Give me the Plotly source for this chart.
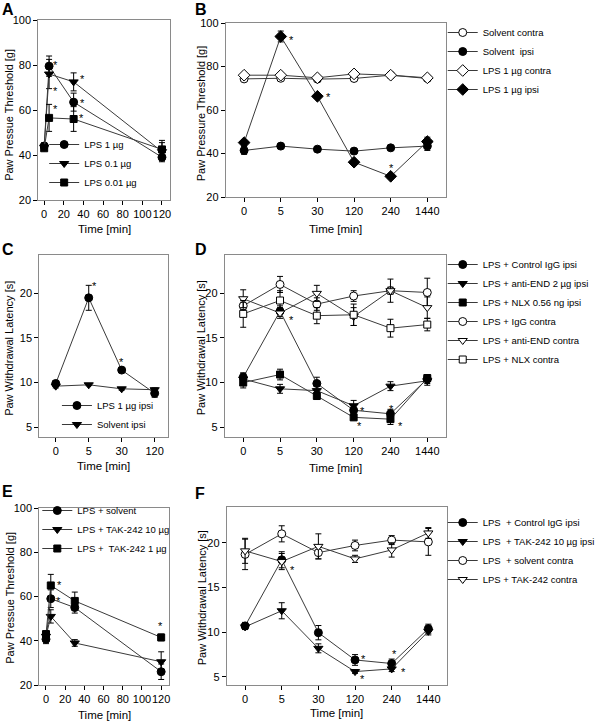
import plotly.graph_objects as go

# ---------------- data ----------------
# Panel A
a_time = [0, 5, 30, 120]
a_lps1 = [44.0, 79.5, 63.5, 39.0]
a_lps1_err = [1.5, 4.5, 4.0, 2.0]
a_lps01 = [43.5, 76.0, 72.5, 41.5]
a_lps01_err = [1.5, 6.5, 4.0, 4.0]
a_lps001 = [43.0, 56.5, 56.0, 42.5]
a_lps001_err = [1.0, 6.0, 5.5, 4.0]
a_star_x = [12, 12, 12, 39, 39, 38]
a_star_y = [81.4, 69.9, 61.6, 75.0, 64.3, 57.9]

# Panel B
b_cats = ["0", "5", "30", "120", "240", "1440"]
b_sol_contra = [74.3, 74.6, 74.2, 74.5, 76.0, 74.5]
b_sol_contra_err = [0.6, 0.6, 0.6, 0.6, 0.6, 0.6]
b_sol_ipsi = [41.4, 43.4, 42.0, 41.1, 42.6, 43.4]
b_sol_ipsi_err = [1.8, 0.8, 1.0, 0.8, 1.0, 2.0]
b_lps_contra = [76.0, 76.0, 74.8, 76.6, 76.0, 74.8]
b_lps_contra_err = [0.6, 0.6, 0.6, 0.6, 0.6, 0.6]
b_lps_ipsi = [45.0, 93.8, 66.3, 36.0, 29.5, 45.5]
b_lps_ipsi_err = [1.2, 2.5, 1.0, 1.0, 0.8, 2.0]
b_star_x = [1.28, 2.29, 4.03]
b_star_y = [93.4, 67.2, 34.9]

# Panel C
c_cats = ["0", "5", "30", "120"]
c_lps = [9.9, 19.5, 11.4, 8.8]
c_lps_err = [0.3, 1.4, 0.2, 0.45]
c_sol = [9.6, 9.75, 9.3, 9.2]
c_sol_err = [0.2, 0.1, 0.15, 0.2]
c_star_x = [1.17, 1.98]
c_star_y = [21.2, 12.65]

# Panel D
d_cats = ["0", "5", "30", "120", "240", "1440"]
d_igg_ipsi = [10.6, 18.0, 9.9, 6.9, 6.5, 10.4]
d_igg_ipsi_err = [0.5, 0.6, 0.7, 0.6, 0.5, 0.5]
d_end_ipsi = [10.4, 9.3, 9.1, 7.4, 9.6, 10.2]
d_end_ipsi_err = [0.6, 0.5, 0.5, 0.6, 0.5, 0.5]
d_nlx_ipsi = [10.0, 10.9, 8.5, 6.1, 5.9, 10.5]
d_nlx_ipsi_err = [0.6, 0.6, 0.4, 0.3, 0.6, 0.4]
d_igg_contra = [18.6, 21.0, 18.8, 19.7, 20.3, 20.1]
d_igg_contra_err = [0.4, 0.9, 0.7, 0.6, 0.4, 1.6]
d_end_contra = [19.4, 17.8, 20.0, 17.4, 20.3, 18.4]
d_end_contra_err = [1.0, 0.6, 0.9, 1.0, 1.3, 1.2]
d_nlx_contra = [17.7, 19.2, 17.5, 17.6, 16.1, 16.5]
d_nlx_contra_err = [1.5, 1.1, 0.9, 1.2, 1.0, 0.7]
d_star_x = [1.30, 3.23, 3.17, 4.03, 4.27]
d_star_y = [17.4, 7.17, 5.5, 7.4, 5.5]

# Panel E
e_time = [0, 5, 30, 120]
e_solv = [40.7, 59.0, 55.0, 26.0]
e_solv_err = [2.0, 4.0, 2.5, 3.5]
e_tak10 = [42.0, 51.0, 39.0, 30.5]
e_tak10_err = [2.0, 3.0, 1.5, 4.5]
e_tak1 = [43.0, 65.0, 58.0, 41.5]
e_tak1_err = [1.5, 5.0, 4.0, 1.5]
e_star_x = [14.5, 13.0, 119.0]
e_star_y = [66.5, 59.2, 47.9]

# Panel F
f_cats = ["0", "5", "30", "120", "240", "1440"]
f_igg_ipsi = [10.7, 18.1, 9.95, 6.9, 6.5, 10.4]
f_igg_ipsi_err = [0.4, 0.9, 0.8, 0.6, 0.5, 0.5]
f_tak_ipsi = [10.6, 12.4, 8.2, 5.6, 5.9, 10.1]
f_tak_ipsi_err = [0.3, 0.9, 0.5, 0.2, 0.3, 0.4]
f_solv_contra = [18.7, 21.0, 18.9, 19.7, 20.3, 20.1]
f_solv_contra_err = [1.7, 0.9, 0.7, 0.6, 0.5, 1.5]
f_tak_contra = [19.1, 17.9, 19.6, 18.2, 19.2, 21.1]
f_tak_contra_err = [1.4, 0.9, 1.4, 0.4, 0.8, 0.6]
f_star_x = [1.30, 3.24, 3.21, 4.09, 4.32]
f_star_y = [17.3, 7.36, 5.07, 7.9, 5.9]

# ---------------- figure ----------------
W, H = 600, 722
FONT = "Liberation Sans, Arial, sans-serif"
LINE = "#3a3a3a"
FRAME = "#8a8a8a"

fig = go.Figure()


def add(axn, x, y, err, name, symbol, filled, size, legend):
    xa = "x" if axn == 1 else f"x{axn}"
    ya = "y" if axn == 1 else f"y{axn}"
    fig.add_trace(go.Scatter(
        x=x, y=y, name=name, mode="lines+markers",
        xaxis=xa, yaxis=ya, legend=legend,
        line=dict(color=LINE, width=1),
        marker=dict(symbol=symbol, size=size,
                    color="black" if filled else "white",
                    line=dict(color="black", width=1)),
        error_y=dict(type="data", array=err, color="black",
                     thickness=1, width=3),
    ))


# A
add(1, a_time, a_lps1, a_lps1_err, "LPS 1 µg", "circle", True, 8, "legend")
add(1, a_time, a_lps01, a_lps01_err, "LPS 0.1 µg", "triangle-down", True, 8, "legend")
add(1, a_time, a_lps001, a_lps001_err, "LPS 0.01 µg", "square", True, 7, "legend")
# B
add(2, b_cats, b_sol_contra, b_sol_contra_err, "Solvent contra", "circle", False, 8, "legend2")
add(2, b_cats, b_sol_ipsi, b_sol_ipsi_err, "Solvent  ipsi", "circle", True, 8, "legend2")
add(2, b_cats, b_lps_contra, b_lps_contra_err, "LPS 1 µg contra", "diamond", False, 9, "legend2")
add(2, b_cats, b_lps_ipsi, b_lps_ipsi_err, "LPS 1 µg ipsi", "diamond", True, 9, "legend2")
# C
add(3, c_cats, c_lps, c_lps_err, "LPS 1 µg ipsi", "circle", True, 8, "legend3")
add(3, c_cats, c_sol, c_sol_err, "Solvent ipsi", "triangle-down", True, 8, "legend3")
# D
add(4, d_cats, d_igg_ipsi, d_igg_ipsi_err, "LPS + Control IgG ipsi", "circle", True, 8, "legend4")
add(4, d_cats, d_end_ipsi, d_end_ipsi_err, "LPS + anti-END 2 µg ipsi", "triangle-down", True, 8, "legend4")
add(4, d_cats, d_nlx_ipsi, d_nlx_ipsi_err, "LPS + NLX 0.56 ng ipsi", "square", True, 7, "legend4")
add(4, d_cats, d_igg_contra, d_igg_contra_err, "LPS + IgG contra", "circle", False, 8, "legend4")
add(4, d_cats, d_end_contra, d_end_contra_err, "LPS + anti-END contra", "triangle-down", False, 8, "legend4")
add(4, d_cats, d_nlx_contra, d_nlx_contra_err, "LPS + NLX contra", "square", False, 7, "legend4")
# E
add(5, e_time, e_solv, e_solv_err, "LPS + solvent", "circle", True, 8, "legend5")
add(5, e_time, e_tak10, e_tak10_err, "LPS + TAK-242 10 µg", "triangle-down", True, 8, "legend5")
add(5, e_time, e_tak1, e_tak1_err, "LPS +  TAK-242 1 µg", "square", True, 7, "legend5")
# F
add(6, f_cats, f_igg_ipsi, f_igg_ipsi_err, "LPS  + Control IgG ipsi", "circle", True, 8, "legend6")
add(6, f_cats, f_tak_ipsi, f_tak_ipsi_err, "LPS  + TAK-242 10 µg ipsi", "triangle-down", True, 8, "legend6")
add(6, f_cats, f_solv_contra, f_solv_contra_err, "LPS  + solvent contra", "circle", False, 8, "legend6")
add(6, f_cats, f_tak_contra, f_tak_contra_err, "LPS + TAK-242 contra", "triangle-down", False, 8, "legend6")


def fx(p):
    return p / W


def fy(p):
    return 1 - p / H


def xax(left, right, anchor, **kw):
    d = dict(domain=[fx(left), fx(right)], anchor=anchor, automargin=False,
             showline=True, mirror=True, linecolor=FRAME, linewidth=1,
             ticks="outside", ticklen=4, tickcolor="black", tickwidth=1,
             tickangle=0, showgrid=False, zeroline=False,
             tickfont=dict(family=FONT, size=11, color="black"))
    d.update(kw)
    return d


def yax(top, bottom, anchor, **kw):
    d = dict(domain=[fy(bottom), fy(top)], anchor=anchor, automargin=False,
             showline=True, mirror=True, linecolor=FRAME, linewidth=1,
             ticks="outside", ticklen=4, tickcolor="black", tickwidth=1,
             showgrid=False, zeroline=False,
             tickfont=dict(family=FONT, size=11, color="black"))
    d.update(kw)
    return d


layout = dict(
    width=W, height=H,
    margin=dict(l=0, r=0, t=0, b=0),
    paper_bgcolor="white", plot_bgcolor="white",
    font=dict(family=FONT, color="black"),
    xaxis=xax(39, 173, "y", range=[-6, 128], tickvals=[0, 20, 40, 60, 80, 100, 120]),
    yaxis=yax(20, 200, "x", range=[20, 100], tickvals=[20, 40, 60, 80, 100]),
    xaxis2=xax(230, 454, "y2", type="category", range=[-0.5, 5.5]),
    yaxis2=yax(23, 197, "x2", range=[20, 100], tickvals=[20, 40, 60, 80, 100]),
    xaxis3=xax(40, 171, "y3", type="category", range=[-0.5, 3.4]),
    yaxis3=yax(255, 437, "x3", range=[3.9, 24.3], tickvals=[5, 10, 15, 20]),
    xaxis4=xax(229, 454, "y4", type="category", range=[-0.5, 5.5]),
    yaxis4=yax(255, 437, "x4", range=[3.9, 24.3], tickvals=[5, 10, 15, 20]),
    xaxis5=xax(40, 172, "y5", range=[-7, 128], tickvals=[0, 20, 40, 60, 80, 100, 120]),
    yaxis5=yax(508, 685, "x5", range=[20, 100], tickvals=[20, 40, 60, 80, 100]),
    xaxis6=xax(231, 455, "y6", type="category", range=[-0.5, 5.5]),
    yaxis6=yax(507, 685, "x6", range=[4.1, 24.0], tickvals=[5, 10, 15, 20]),
)


def leg(left, top):
    return dict(x=fx(left), y=fy(top), xanchor="left", yanchor="top",
                bgcolor="rgba(0,0,0,0)", borderwidth=0, tracegroupgap=0,
                itemwidth=30, font=dict(family=FONT, size=9.5, color="black"))


layout["legend"] = leg(45, 130)
layout["legend2"] = leg(451, 18)
layout["legend3"] = leg(58, 391)
layout["legend4"] = leg(451, 250)
layout["legend5"] = leg(38, 496)
layout["legend6"] = leg(451, 508)

fig.update_layout(**layout)

ann = []
# significance asterisks
for axn, xs, ys in [(1, a_star_x, a_star_y), (2, b_star_x, b_star_y),
                    (3, c_star_x, c_star_y), (4, d_star_x, d_star_y),
                    (5, e_star_x, e_star_y), (6, f_star_x, f_star_y)]:
    xr = "x" if axn == 1 else f"x{axn}"
    yr = "y" if axn == 1 else f"y{axn}"
    for sx, sy in zip(xs, ys):
        ann.append(dict(x=sx, y=sy, xref=xr, yref=yr, text="*", showarrow=False,
                        yshift=-3, font=dict(family=FONT, size=11, color="black")))

# panel letters
for letter, lx, ly in [("A", 1, 0), ("B", 198, 0), ("C", 1, 240),
                       ("D", 198, 240), ("E", 1, 482), ("F", 198, 484)]:
    ann.append(dict(x=fx(lx), y=fy(ly), xref="paper", yref="paper", text=f"<b>{letter}</b>",
                    showarrow=False, xanchor="left", yanchor="top", borderpad=0,
                    font=dict(family=FONT, size=16, color="black")))

# axis titles
TPT = "Paw Pressure Threshold [g]"
TPT2 = "Paw Pressue Threshold [g]"
TWL = "Paw Withdrawal Latency [s]"
TT = "Time [min]"
xt_font = dict(family=FONT, size=11.5, color="black")
yt_font = dict(family=FONT, size=11, color="black")
for text, cx, cy in [(TT, 106, 229), (TT, 342, 229), (TT, 105.5, 466),
                     (TT, 341.5, 468), (TT, 106, 715), (TT, 343, 713)]:
    ann.append(dict(x=fx(cx), y=fy(cy), xref="paper", yref="paper", text=text,
                    showarrow=False, xanchor="center", yanchor="middle", font=xt_font))
for text, cx, cy in [(TPT2, 9, 115), (TPT, 205, 113), (TWL, 9, 348),
                     (TWL, 205, 348), (TPT2, 10, 598), (TWL, 206, 598)]:
    ann.append(dict(x=fx(cx), y=fy(cy), xref="paper", yref="paper", text=text,
                    textangle=-90, showarrow=False, xanchor="center", yanchor="middle",
                    font=yt_font))

fig.update_layout(annotations=ann)
fig.write_html("out.html", config={"displayModeBar": False},
               post_script="document.body.style.margin='0';document.body.style.overflow='hidden';")
